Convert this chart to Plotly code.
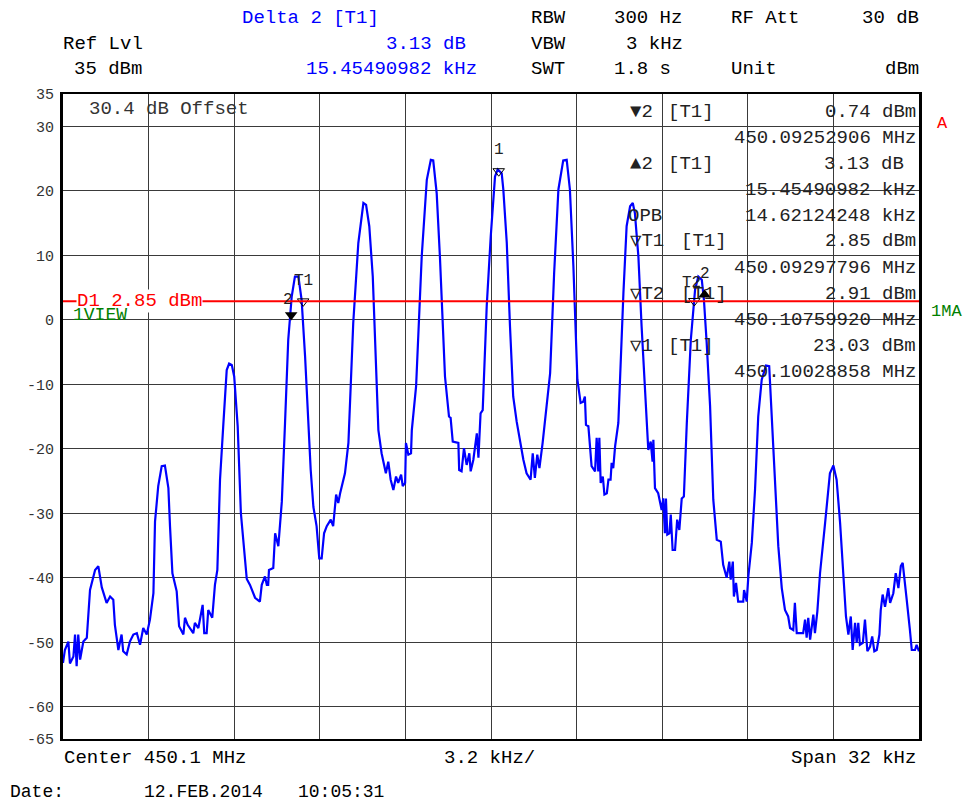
import plotly.graph_objects as go

# ---------------- data ----------------
center_mhz = 450.1
span_khz = 32.0
div_khz = 3.2
ref_level_dbm = 35
bottom_dbm = -65
y_tick_values = [35, 30, 20, 10, 0, -10, -20, -30, -40, -50, -60, -65]

# trace: frequency offset from center (kHz) and level (dBm)
freq_offset_a = [-16.00, -15.93, -15.80, -15.74, -15.61, -15.55, -15.49, -15.43, -15.36, -15.30,
                 -15.24, -15.11, -14.99, -14.80, -14.68, -14.55, -14.37, -14.24, -14.12, -14.06,
                 -13.93, -13.81, -13.75, -13.62, -13.50, -13.37, -13.24, -13.12, -13.00, -12.87,
                 -12.75, -12.62, -12.56, -12.44, -12.31, -12.19, -12.06, -12.00, -11.91, -11.75,
                 -11.66, -11.50, -11.44, -11.34, -11.13, -11.07, -10.94, -10.78, -10.72, -10.63,
                 -10.57, -10.42, -10.32, -10.23, -10.13, -10.01, -9.88, -9.79, -9.69, -9.60,
                 -9.47, -9.35, -9.13, -9.01, -8.82, -8.64, -8.57, -8.45, -8.38, -8.33,
                 -8.30, -8.14, -8.07, -7.95, -7.82]
level_a = [-53.2, -51.2, -49.9, -53.3, -52.2, -48.8, -53.7, -48.8, -52.7, -51.2,
           -49.9, -49.3, -41.9, -38.8, -38.2, -41.5, -43.9, -42.9, -43.4, -47.3,
           -51.2, -48.8, -51.4, -51.9, -49.9, -48.8, -48.6, -50.4, -47.8, -48.8,
           -46.5, -42.4, -31.3, -25.8, -22.7, -22.6, -26.1, -32.0, -39.3, -42.1,
           -47.5, -48.8, -46.2, -47.3, -48.6, -47.0, -47.8, -44.2, -48.6, -48.6,
           -45.0, -46.2, -41.1, -38.8, -24.8, -16.5, -7.8, -6.8, -7.0, -8.8,
           -16.5, -30.0, -40.2, -41.1, -43.1, -43.7, -41.1, -39.8, -41.1, -41.1,
           -38.8, -38.5, -33.1, -35.1, -28.2]

freq_offset_b = [-7.70, -7.58, -7.45, -7.33, -7.20, -7.08, -6.95, -6.83, -6.74, -6.64,
                 -6.52, -6.42, -6.33, -6.24, -6.14, -5.99, -5.90, -5.79, -5.71, -5.64,
                 -5.46, -5.33, -5.15, -4.96, -4.77, -4.67, -4.55, -4.42, -4.30, -4.21,
                 -4.09, -3.93, -3.84, -3.75, -3.65, -3.55, -3.47, -3.36, -3.30, -3.21,
                 -3.18, -3.09, -2.99, -2.96, -2.80, -2.59, -2.40, -2.25, -2.16, -2.03,
                 -1.91, -1.72, -1.57, -1.51, -1.43, -1.22, -1.19, -1.10, -1.01, -0.91,
                 -0.81, -0.76, -0.66, -0.53, -0.47, -0.39, -0.31, -0.16, -0.01, 0.15,
                 0.25, 0.40]
level_b = [-16.0, -3.1, 3.6, 6.7, 6.7, 3.1, -5.7, -16.0, -23.3, -29.0,
           -32.0, -37.0, -37.0, -33.1, -32.0, -31.0, -32.0, -27.1, -28.4, -26.9,
           -23.8, -19.1, -0.5, 11.9, 18.1, 17.8, 14.5, 6.7, -8.3, -17.1,
           -20.7, -23.8, -22.0, -24.8, -26.4, -24.3, -25.3, -24.0, -25.8, -25.3,
           -19.1, -20.9, -20.7, -17.1, -10.3, 9.8, 21.7, 24.8, 24.7, 19.6,
           9.8, -8.8, -15.0, -15.2, -18.9, -19.1, -23.3, -23.5, -19.9, -22.5,
           -20.7, -23.5, -21.7, -17.6, -21.4, -14.5, -14.0, 2.1, 12.9, 22.2,
           23.3, 22.7]

freq_offset_c = [0.46, 0.59, 0.71, 0.83, 0.96, 1.08, 1.21, 1.33, 1.48, 1.56,
                 1.64, 1.73, 1.81, 1.93, 2.08, 2.21, 2.36, 2.52, 2.70, 2.83,
                 2.95, 3.08, 3.23, 3.35, 3.45, 3.51, 3.55, 3.64, 3.70, 3.76,
                 3.89, 3.95, 4.01, 4.05, 4.10, 4.18, 4.24, 4.33, 4.39, 4.47,
                 4.51, 4.57, 4.64, 4.76, 4.95, 5.07, 5.20, 5.30, 5.38, 5.51,
                 5.63, 5.76, 5.88, 5.97, 6.04, 6.07, 6.13, 6.25, 6.38, 6.44,
                 6.50, 6.54, 6.59, 6.67, 6.72, 6.79, 6.88, 6.96, 7.04, 7.13,
                 7.21, 7.32, 7.47, 7.63, 7.75, 7.88, 7.96]
level_c = [20.2, 11.9, -1.0, -11.9, -15.8, -18.6, -21.7, -23.8, -24.8, -20.7,
           -24.5, -20.9, -23.0, -19.1, -12.9, -8.3, 7.2, 20.2, 24.7, 24.8,
           20.2, 8.3, -9.3, -12.9, -12.7, -11.9, -16.3, -16.5, -19.6, -22.7,
           -23.5, -18.3, -23.5, -18.3, -25.3, -24.3, -27.1, -26.9, -24.8, -24.8,
           -22.2, -23.0, -19.6, -16.0, 4.1, 14.5, 17.6, 18.1, 16.5, 9.8,
           -1.0, -10.9, -20.2, -18.9, -22.0, -18.6, -26.1, -26.9, -29.5, -27.7,
           -33.1, -27.7, -33.3, -33.1, -30.2, -35.7, -35.7, -31.0, -32.6, -27.7,
           -27.4, -16.0, -3.1, 4.7, 6.7, 6.2, 3.1]

freq_offset_d = [8.06, 8.19, 8.31, 8.44, 8.59, 8.68, 8.81, 8.91, 8.96, 9.04,
                 9.08, 9.16, 9.24, 9.43, 9.46, 9.56, 9.62, 9.75, 9.87, 9.99,
                 10.12, 10.28, 10.40, 10.49, 10.62, 10.74, 10.87, 10.99, 11.11, 11.18,
                 11.30, 11.36, 11.43, 11.67, 11.74, 11.80, 11.86, 11.93, 12.05, 12.11,
                 12.20, 12.30, 12.49, 12.67, 12.80, 12.92, 13.05, 13.20, 13.27, 13.36,
                 13.45, 13.52, 13.61, 13.67, 13.73, 13.79, 13.90, 13.98, 14.07, 14.17,
                 14.25, 14.33, 14.42, 14.52, 14.57, 14.64, 14.73, 14.85, 14.92, 15.04,
                 15.13, 15.23, 15.32, 15.39, 15.48, 15.54, 15.66, 15.73, 15.85, 15.91,
                 16.00]
level_d = [-3.4, -13.4, -27.9, -34.1, -34.4, -38.0, -40.0, -37.5, -40.3, -37.5,
           -42.9, -40.8, -43.7, -43.7, -41.9, -43.7, -39.8, -34.6, -26.4, -15.0,
           -9.3, -7.1, -7.2, -14.5, -24.8, -35.1, -41.6, -45.0, -46.0, -47.8,
           -48.1, -43.9, -48.6, -48.6, -46.5, -49.3, -46.2, -49.6, -45.7, -48.6,
           -45.2, -39.3, -31.5, -23.8, -22.6, -24.8, -31.5, -40.3, -46.0, -48.8,
           -46.0, -51.2, -47.0, -50.1, -47.0, -50.4, -50.1, -46.5, -51.4, -50.7,
           -49.1, -51.4, -51.2, -48.8, -45.0, -42.6, -44.5, -41.6, -43.9, -42.4,
           -39.3, -41.6, -38.2, -37.7, -40.8, -43.4, -48.1, -51.2, -51.2, -50.4,
           -51.4]

# markers (from the instrument readout)
m1_freq_mhz, m1_level = 450.10028858, 23.03
m2_freq_mhz, m2_level = 450.09252906, 0.74
delta2_db, delta2_khz = 3.13, 15.45490982
t1_freq_mhz, t1_level = 450.09297796, 2.85
t2_freq_mhz, t2_level = 450.10759920, 2.91
opb_khz = 14.62124248
display_line_dbm = 2.85

# ---------------- figure ----------------
freq_offset_khz = freq_offset_a + freq_offset_b + freq_offset_c + freq_offset_d
level_dbm = level_a + level_b + level_c + level_d

FONT = "Liberation Mono, DejaVu Sans Mono, monospace"
W, H = 965, 804
L, R, T, B = 63, 919, 94, 739


def px(xp):
    return (xp - L) / (R - L)


def py(yp):
    return (B - yp) / (B - T)


def off(mhz):
    return (mhz - center_mhz) * 1000.0


fig = go.Figure()
fig.add_trace(go.Scatter(x=freq_offset_khz, y=level_dbm, mode="lines",
                         line=dict(color="#0000ff", width=2.2), hoverinfo="skip",
                         showlegend=False))

# display line D1
fig.add_shape(type="line", xref="paper", yref="y", x0=0, x1=1,
              y0=display_line_dbm, y1=display_line_dbm,
              line=dict(color="#ff0000", width=2))

m1x, m2x = off(m1_freq_mhz), off(m2_freq_mhz)
d2x, d2y = m2x + delta2_khz, m2_level + delta2_db
t1x, t2x = off(t1_freq_mhz), off(t2_freq_mhz)

fig.add_trace(go.Scatter(x=[m1x, t1x, t2x], y=[m1_level, t1_level, t2_level],
                         mode="markers", hoverinfo="skip", showlegend=False,
                         marker=dict(symbol="triangle-down-open", size=10,
                                     color="black", line=dict(width=1, color="black"))))
fig.add_trace(go.Scatter(x=[m2x], y=[m2_level], mode="markers", hoverinfo="skip",
                         showlegend=False,
                         marker=dict(symbol="triangle-down", size=11, color="black")))
fig.add_trace(go.Scatter(x=[d2x], y=[d2y], mode="markers", hoverinfo="skip",
                         showlegend=False,
                         marker=dict(symbol="triangle-up", size=11, color="black")))

ann = []


def text(t, x, y, anchor="left", color="black", size=19, **kw):
    ann.append(dict(text=t, x=x, y=y, xref="paper", yref="paper", xanchor=anchor,
                    yanchor="middle", showarrow=False,
                    font=dict(family=FONT, size=size, color=color), **kw))


# header
text("Delta 2 [T1]", px(240), py(18), color="#0000ff")
text("Ref Lvl", px(61), py(44))
text(f"{delta2_db:.2f} dB", px(468), py(44), anchor="right", color="#0000ff")
text(f"{ref_level_dbm} dBm", px(72), py(69))
text(f"{delta2_khz:.8f} kHz", px(479), py(69), anchor="right", color="#0000ff")
text("RBW", px(529), py(18))
text("300 Hz", px(612), py(18))
text("RF Att", px(729), py(18))
text("30 dB", px(921), py(18), anchor="right")
text("VBW", px(529), py(44))
text("3 kHz", px(624), py(44))
text("SWT", px(529), py(69))
text("1.8 s", px(612), py(69))
text("Unit", px(729), py(69))
text("dBm", px(921), py(69), anchor="right")

text("30.4 dB Offset", px(87), py(109), color="#333333")

# marker table
tc = "#222222"
rows_y = [112, 138, 164, 190, 216, 241, 268, 294, 320, 346, 372]
text("\u25bc2", px(628), py(rows_y[0]), color=tc)
text("[T1]", px(666), py(rows_y[0]), color=tc)
text(f"{m2_level:.2f} dBm", px(918), py(rows_y[0]), anchor="right", color=tc)
text(f"{m2_freq_mhz:.8f} MHz", px(918), py(rows_y[1]), anchor="right", color=tc)
text("\u25b22", px(628), py(rows_y[2]), color=tc)
text("[T1]", px(666), py(rows_y[2]), color=tc)
text(f"{delta2_db:.2f} dB", px(906), py(rows_y[2]), anchor="right", color=tc)
text(f"{delta2_khz:.8f} kHz", px(918), py(rows_y[3]), anchor="right", color=tc)
text("OPB", px(626), py(rows_y[4]), color=tc)
text(f"{opb_khz:.8f} kHz", px(918), py(rows_y[4]), anchor="right", color=tc)
text("\u25bdT1", px(628), py(rows_y[5]), color=tc)
text("[T1]", px(679), py(rows_y[5]), color=tc)
text(f"{t1_level:.2f} dBm", px(918), py(rows_y[5]), anchor="right", color=tc)
text(f"{t1_freq_mhz:.8f} MHz", px(918), py(rows_y[6]), anchor="right", color=tc)
text("\u25bdT2", px(628), py(rows_y[7]), color=tc)
text("[T1]", px(679), py(rows_y[7]), color=tc)
text(f"{t2_level:.2f} dBm", px(918), py(rows_y[7]), anchor="right", color=tc)
text(f"{t2_freq_mhz:.8f} MHz", px(918), py(rows_y[8]), anchor="right", color=tc)
text("\u25bd1", px(628), py(rows_y[9]), color=tc)
text("[T1]", px(666), py(rows_y[9]), color=tc)
text(f"{m1_level:.2f} dBm", px(918), py(rows_y[9]), anchor="right", color=tc)
text(f"{m1_freq_mhz:.8f} MHz", px(918), py(rows_y[10]), anchor="right", color=tc)

# side labels
text("A", px(943), py(123), anchor="center", color="#ff0000", size=17)
text("1MA", px(946), py(311), anchor="center", color="#008000", size=17)

# display line label
ann.append(dict(text=f"D1 {display_line_dbm:.2f} dBm", x=px(76), y=display_line_dbm,
                xref="paper", yref="y", xanchor="left", yanchor="middle",
                showarrow=False, bgcolor="white", borderpad=0,
                font=dict(family=FONT, size=19, color="#ff0000")))
text("1VIEW", px(72), py(315), color="#008000", size=18, borderpad=0)

# marker labels
def mlabel(t, x, y, dx, dy):
    ann.append(dict(text=t, x=x, y=y, xref="x", yref="y", xshift=dx, yshift=dy,
                    showarrow=False, font=dict(family=FONT, size=16, color="#222222")))


mlabel("1", m1x, m1_level, 0, 21)
mlabel("2", m2x, m2_level, -3, 15)
mlabel("T1", t1x, t1_level, 0, 20)
mlabel("T2", t2x, t2_level, -3, 18)
mlabel("2", d2x, d2y, 0, 21)

# footer
text(f"Center {center_mhz} MHz", px(62), py(758))
text(f"{div_khz} kHz/", px(442), py(758))
text(f"Span {span_khz:g} kHz", px(918), py(758), anchor="right")
text("Date:", px(9), py(792), size=18, borderpad=0)
text("12.FEB.2014", px(143), py(792), size=18, borderpad=0)
text("10:05:31", px(297), py(792), size=18, borderpad=0)

fig.update_layout(
    width=W, height=H,
    margin=dict(l=L, r=W - R, t=T, b=H - B, pad=0),
    paper_bgcolor="white", plot_bgcolor="white",
    annotations=ann, hovermode=False,
    xaxis=dict(range=[-span_khz / 2, span_khz / 2], tick0=-span_khz / 2, dtick=div_khz,
               tickmode="linear", showticklabels=False, showgrid=True,
               gridcolor="#3a3a3a", gridwidth=1, zeroline=False, showline=True,
               linecolor="black", linewidth=2, mirror=True, ticks=""),
    yaxis=dict(range=[bottom_dbm, ref_level_dbm], tickmode="array",
               tickvals=y_tick_values, ticktext=[str(v) for v in y_tick_values],
               showgrid=True, gridcolor="#3a3a3a", gridwidth=1, zeroline=False,
               showline=True, linecolor="black", linewidth=3, mirror=True,
               ticks="", ticklabelstandoff=3,
               tickfont=dict(family=FONT, size=15, color="#333333")),
)

fig.write_html("out.html", config={"displayModeBar": False},
               post_script="document.body.style.margin='0px';document.body.style.padding='0px';")
